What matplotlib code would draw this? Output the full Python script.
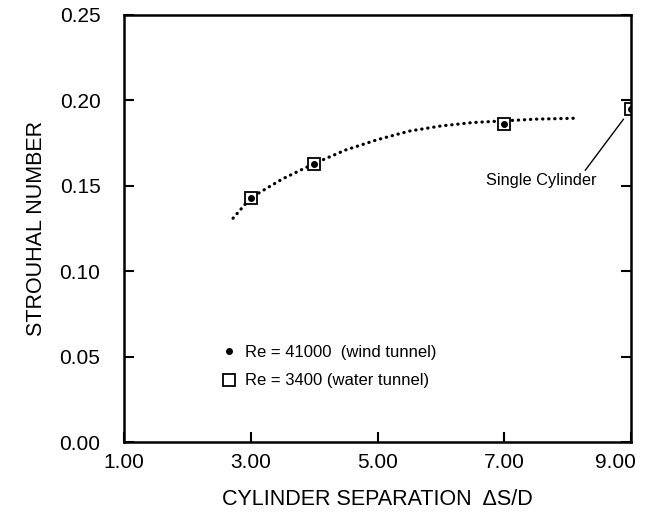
import matplotlib
matplotlib.use("Agg")
import matplotlib.pyplot as plt
import matplotlib.transforms as mtransforms
import numpy as np

plt.rcParams['font.family'] = ['Liberation Sans', 'DejaVu Sans']

# measured points
sep = [3.0, 4.0, 7.0, 9.0]
st_wind = [0.143, 0.163, 0.186, 0.195]
st_water = [0.143, 0.163, 0.186, 0.195]

# dotted trend curve
curve_x = [2.72, 3.0, 3.5, 4.0, 4.5, 5.0, 5.5, 6.0, 6.5, 7.0, 7.5, 8.1]
curve_y = [0.131, 0.143, 0.154, 0.163, 0.171, 0.177, 0.182, 0.185, 0.187, 0.188, 0.189, 0.1895]

fig = plt.figure(figsize=(6.46, 5.14), dpi=100)
ax = fig.add_axes([0.192, 0.140, 0.785, 0.831])

ax.plot(curve_x, curve_y, color='black', lw=2.3, linestyle=(0, (0.1, 1.8)),
        dash_capstyle='round')
ax.plot(sep, st_water, linestyle='none', marker='s', ms=8, mfc='white',
        mec='black', mew=1.3, label='Re = 3400 (water tunnel)')
ax.plot(sep, st_wind, linestyle='none', marker='o', ms=4, color='black',
        label='Re = 41000  (wind tunnel)')

h, l = ax.get_legend_handles_labels()
ax.legend(h[::-1], l[::-1], loc='upper left', bbox_to_anchor=(0.16, 0.262),
          frameon=False, fontsize=12, handlelength=1.0, handletextpad=0.5,
          labelspacing=0.8)

ax.annotate('Single Cylinder', xy=(8.88, 0.189), xytext=(7.58, 0.153),
            ha='center', va='center', fontsize=11.8,
            arrowprops=dict(arrowstyle='-', lw=1, color='black',
                            shrinkA=0, shrinkB=0, relpos=(0.88, 1.0)))

ax.set_xlim(1, 9)
ax.set_ylim(0, 0.25)
ax.set_xticks([1, 3, 5, 7, 9])
ax.set_xticklabels(['1.00', '3.00', '5.00', '7.00', '9.00'])
ax.set_yticks([0, 0.05, 0.10, 0.15, 0.20, 0.25])
ax.set_yticklabels(['0.00', '0.05', '0.10', '0.15', '0.20', '0.25'])
ax.tick_params(direction='in', length=7, width=1.5, labelsize=15,
               right=True, top=False)
ax.tick_params(axis='y', pad=17)
ax.tick_params(axis='x', pad=8)
for s in ax.spines.values():
    s.set_linewidth(1.8)

# last x label sits against the right edge, as in the original
last = ax.get_xticklabels()[-1]
last.set_ha('right')
last.set_transform(last.get_transform() +
                   mtransforms.ScaledTranslation(5 / 100, 0, fig.dpi_scale_trans))

ax.set_xlabel('CYLINDER SEPARATION  \u0394S/D', fontsize=15.5, labelpad=12)
ax.set_ylabel('STROUHAL NUMBER', fontsize=15.5, labelpad=9)

fig.savefig('out.png', dpi=100)
